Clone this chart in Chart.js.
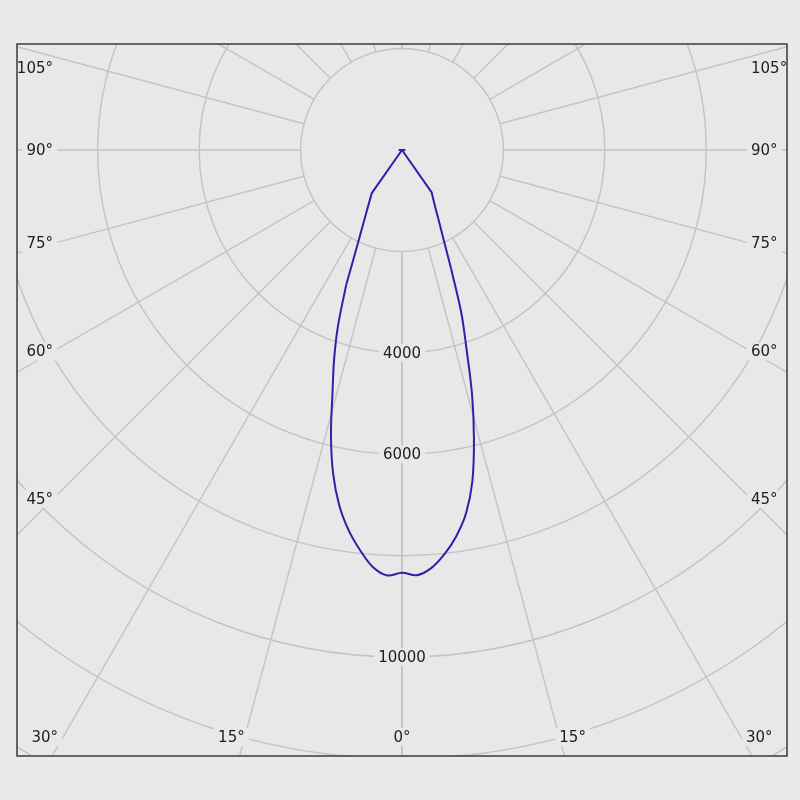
<!DOCTYPE html>
<html>
<head>
<meta charset="utf-8">
<script src="https://cdn.jsdelivr.net/npm/chart.js@4"></script>
<style>
  body { margin: 0; background: #eaeaea; }
  canvas { display: block; }
</style>
</head>
<body>
<canvas id="polar" width="800" height="800"></canvas>
<script>
// gamma angles (deg from straight down) and luminous intensity (cd) for the two half planes
const gammaAngles = [0, 2, 4, 6, 8, 10, 12, 14, 16, 18, 20, 22.5, 25, 27.5, 30, 32.5, 35, 40, 50, 60, 70, 80, 90, 100, 110, 120, 130, 140, 150, 160, 170, 180];
const leftPlane  = [8335, 8395, 8245, 7930, 7570, 7120, 6530, 5790, 4970, 4330, 3690, 2870, 2100, 1670, 1390, 1190, 1040, 0, 0, 0, 0, 0, 50, 0, 0, 0, 0, 0, 0, 0, 0, 0];
const rightPlane = [8335, 8390, 8265, 8015, 7690, 7275, 6675, 5865, 5010, 4110, 3420, 2525, 1935, 1570, 1320, 1145, 1020, 0, 0, 0, 0, 0, 50, 0, 0, 0, 0, 0, 0, 0, 0, 0];
const smoothUpTo = 22.5; // the main lobe is drawn smoothed, the cut-off part straight

const ringValues = [2000, 4000, 6000, 8000, 10000, 12000, 14000];
const ringLabels = [4000, 6000, 10000];
const spokeAngles = [0, 15, 30, 45, 60, 75, 90, 105, 120, 135, 150, 165, 180];
const angleLabels = [0, 15, 30, 45, 60, 75, 90, 105];

const rad = d => d * Math.PI / 180;
const toPoint = (values, i, side) => {
  const g = rad(gammaAngles[i]);
  return { x: side * values[i] * Math.sin(g), y: -values[i] * Math.cos(g) };
};

const lobe = [], leftTail = [], rightTail = [];
for (let i = gammaAngles.length - 1; i >= 0; i--) {
  if (gammaAngles[i] >= smoothUpTo) leftTail.push(toPoint(leftPlane, i, -1));
  if (gammaAngles[i] <= smoothUpTo) lobe.push(toPoint(leftPlane, i, -1));
}
for (let i = 1; i < gammaAngles.length; i++) {
  if (gammaAngles[i] <= smoothUpTo) lobe.push(toPoint(rightPlane, i, 1));
  if (gammaAngles[i] >= smoothUpTo) rightTail.push(toPoint(rightPlane, i, 1));
}

const plotBg = '#e8e8e8';
const gridColor = '#c3c3c3';
const curveColor = '#2b22a8';
const labelFont = '15px "DejaVu Sans"';

function boxedText(ctx, text, x, y, align) {
  ctx.font = labelFont;
  const w = ctx.measureText(text).width;
  let left = x - w / 2;
  if (align === 'left') left = x;
  if (align === 'right') left = x - w;
  ctx.fillStyle = plotBg;
  ctx.fillRect(left - 4, y - 9, w + 8, 18);
  ctx.fillStyle = '#1e1e1e';
  ctx.textAlign = 'left';
  ctx.textBaseline = 'middle';
  ctx.fillText(text, left, y + 1);
}

const polarGrid = {
  id: 'polarGrid',
  beforeDatasetsDraw(chart) {
    const { ctx, chartArea: a, scales: { x, y } } = chart;
    const cx = x.getPixelForValue(0);
    const cy = y.getPixelForValue(0);
    const k = (x.getPixelForValue(1000) - cx) / 1000;
    ctx.save();
    ctx.fillStyle = plotBg;
    ctx.fillRect(a.left, a.top, a.width, a.height);
    ctx.beginPath();
    ctx.rect(a.left, a.top, a.width, a.height);
    ctx.clip();
    ctx.strokeStyle = gridColor;
    ctx.lineWidth = 1.4;
    ringValues.forEach(r => {
      ctx.beginPath();
      ctx.arc(cx, cy, r * k, 0, Math.PI * 2);
      ctx.stroke();
    });
    const r0 = ringValues[0] * k, r1 = 16000 * k;
    spokeAngles.forEach(d => {
      [-1, 1].forEach(s => {
        const dx = s * Math.sin(rad(d)), dy = Math.cos(rad(d));
        ctx.beginPath();
        ctx.moveTo(cx + dx * r0, cy + dy * r0);
        ctx.lineTo(cx + dx * r1, cy + dy * r1);
        ctx.stroke();
      });
    });

    // ring values on the 0 deg spoke
    ringLabels.forEach(v => boxedText(ctx, String(v), cx, cy + v * k, 'center'));

    // angle labels where the spokes run out near the frame
    const sideX = 36, bottomY = 19, topY = 24;
    angleLabels.forEach(d => {
      [-1, 1].forEach(s => {
        if (d === 0 && s === 1) return;
        const sn = Math.sin(rad(d)), cs = Math.cos(rad(d));
        const halfW = s < 0 ? cx - (a.left + sideX) : (a.right - sideX) - cx;
        let t = sn > 0 ? halfW / sn : Infinity;
        if (cs > 0) t = Math.min(t, (a.bottom - bottomY - cy) / cs);
        // keep corner labels off the frame line
        const px = Math.min(Math.max(cx + s * sn * t + s * 5, a.left + 40), a.right - 40);
        const py = Math.max(cy + cs * t, a.top + topY);
        const align = d === 0 ? 'center' : (s < 0 ? 'right' : 'left');
        boxedText(ctx, d + '\u00b0', d === 0 ? cx : (d === 30 ? px : cx + s * sn * t), py, align);
      });
    });
    ctx.restore();
  },
  afterDraw(chart) {
    const { ctx, chartArea: a } = chart;
    ctx.save();
    ctx.strokeStyle = '#3a3a3a';
    ctx.lineWidth = 1.5;
    ctx.strokeRect(a.left, a.top, a.width, a.height);
    ctx.restore();
  }
};

const line = (pts, tension) => ({
  data: pts, showLine: true, borderColor: curveColor, borderWidth: 2,
  pointRadius: 0, tension: tension, borderJoinStyle: 'round'
});

new Chart(document.getElementById('polar'), {
  type: 'scatter',
  data: { datasets: [line(lobe, 0.35), line(leftTail, 0), line(rightTail, 0)] },
  options: {
    responsive: false,
    animation: false,
    layout: { padding: { left: 17, top: 44, right: 13, bottom: 44 } },
    scales: {
      x: { type: 'linear', display: false, min: -7592, max: 7592 },
      y: { type: 'linear', display: false, min: -11950, max: 2090 }
    },
    plugins: { legend: { display: false }, tooltip: { enabled: false } }
  },
  plugins: [polarGrid]
});
</script>
</body>
</html>
